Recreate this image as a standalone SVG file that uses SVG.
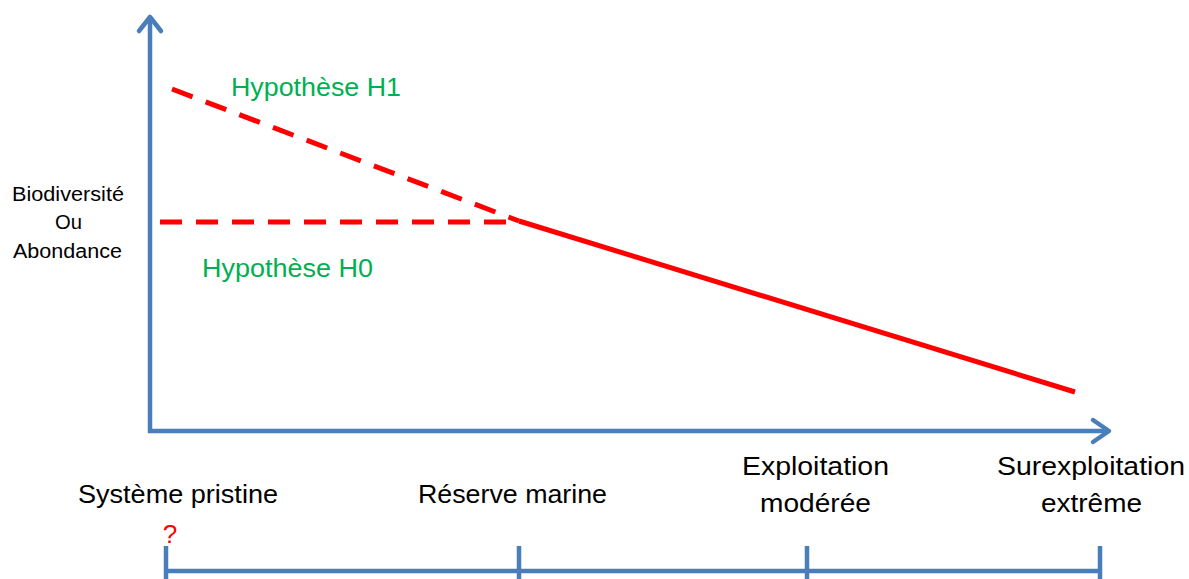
<svg xmlns="http://www.w3.org/2000/svg" width="1189" height="579" viewBox="0 0 1189 579">
<style>
.ax{stroke:#4a7ebb;stroke-width:4.5;fill:none}
.rd{stroke:#ff0000;stroke-width:5;fill:none}
.ds{stroke-dasharray:22,14}
.t{font-family:"Liberation Sans",Arial,sans-serif;fill:#000}
.g{fill:#00b050;font-size:25px}
.l{font-size:26px}
.s{font-size:20px}
</style>
<g id="connectors">
<path class="ax" d="M150,433 L150,20" />
<path d="M139,31 L150,17 L161,31" fill="none" stroke="#4a7ebb" stroke-width="4.5" stroke-linecap="round" stroke-linejoin="round"/>
<path class="ax" d="M148,431 L1108,431" />
<path d="M1093,420 L1109,431 L1093,442" fill="none" stroke="#4a7ebb" stroke-width="4.5" stroke-linecap="round" stroke-linejoin="round"/>
<path class="rd ds" d="M172,89 L519,221" />
<path class="rd ds" d="M160,222 L519,222" />
<path class="rd" d="M519,221 L1075,392" />
<g id="scale">
<path class="ax" d="M166,571 L1100,571" />
<path class="ax" d="M166,546 L166,579 M519,546 L519,579 M807,546 L807,579 M1100,546 L1100,579" />
</g>
</g>
<g id="ylabel" class="t s">
<text x="12" y="201" textLength="112" lengthAdjust="spacingAndGlyphs">Biodiversité</text>
<text x="55" y="229" textLength="27" lengthAdjust="spacingAndGlyphs">Ou</text>
<text x="13" y="258" textLength="109" lengthAdjust="spacingAndGlyphs">Abondance</text>
</g>
<g id="h1"><text class="t g" x="231" y="96" textLength="170" lengthAdjust="spacingAndGlyphs">Hypothèse H1</text></g>
<g id="h0"><text class="t g" x="202" y="277" textLength="171" lengthAdjust="spacingAndGlyphs">Hypothèse H0</text></g>
<g id="pristine"><text class="t l" x="78" y="503" textLength="200" lengthAdjust="spacingAndGlyphs">Système pristine</text>
<text class="t" x="170" y="543" text-anchor="middle" style="fill:#ff0000;font-size:26px">?</text></g>
<g id="reserve"><text class="t l" x="418" y="503" textLength="189" lengthAdjust="spacingAndGlyphs">Réserve marine</text></g>
<g id="moderee" class="t l">
<text x="742" y="475" textLength="147" lengthAdjust="spacingAndGlyphs">Exploitation</text>
<text x="760" y="512" textLength="111" lengthAdjust="spacingAndGlyphs">modérée</text>
</g>
<g id="extreme" class="t l">
<text x="997" y="475" textLength="188" lengthAdjust="spacingAndGlyphs">Surexploitation</text>
<text x="1041" y="512" textLength="101" lengthAdjust="spacingAndGlyphs">extrême</text>
</g>
</svg>
